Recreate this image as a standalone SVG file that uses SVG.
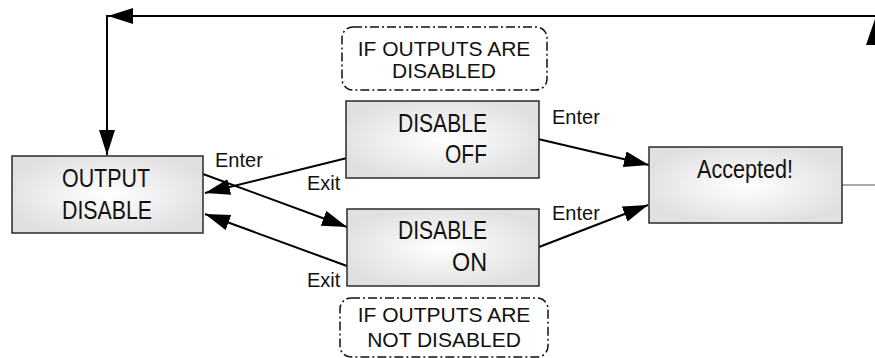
<svg xmlns="http://www.w3.org/2000/svg" width="875" height="358" viewBox="0 0 875 358">
<style>
.box{stroke:#2a2a2a;stroke-width:1.5;fill:url(#g)}
.bt{font-family:"Liberation Sans",Arial,sans-serif;font-size:25.5px;fill:#111}
.lb{font-family:"Liberation Sans",Arial,sans-serif;font-size:20px;fill:#111}
.nt{font-family:"Liberation Sans",Arial,sans-serif;font-size:21px;fill:#111;text-anchor:middle}
.note{fill:none;stroke:#111;stroke-width:1.5;stroke-dasharray:9 3 2 3}
.c{fill:none;stroke:#000;stroke-width:2}
</style>
<defs>
<radialGradient id="g" cx="50%" cy="50%" r="55%">
<stop offset="0" stop-color="#ffffff"/>
<stop offset="1" stop-color="#e0e0e0"/>
</radialGradient>
<marker id="a" markerUnits="userSpaceOnUse" markerWidth="26" markerHeight="18" refX="25" refY="8" orient="auto">
<path d="M0,0 L25,8 L0,16 z" fill="#000"/>
</marker>
</defs>
<rect width="875" height="358" fill="#fff"/>
<g id="connectors">
<polyline class="c" points="875,16 108,16" marker-end="url(#a)"/>
<polyline class="c" points="107,15 107,155" marker-end="url(#a)"/>
<line class="c" x1="203" y1="174" x2="347" y2="227" marker-end="url(#a)"/>
<line class="c" x1="347" y1="158" x2="205" y2="193" marker-end="url(#a)"/>
<line class="c" x1="347" y1="266" x2="205" y2="214" marker-end="url(#a)"/>
<line class="c" x1="538" y1="139" x2="649" y2="165" marker-end="url(#a)"/>
<line class="c" x1="539" y1="247" x2="648" y2="205" marker-end="url(#a)"/>
<line x1="842" y1="185" x2="875" y2="185" stroke="#555" stroke-width="1"/>
<polygon points="866,45 875,19 884,45" fill="#000"/>
<text class="lb" x="215" y="167">Enter</text>
<text class="lb" x="307" y="190">Exit</text>
<text class="lb" x="307" y="287">Exit</text>
<text class="lb" x="552" y="124">Enter</text>
<text class="lb" x="552" y="220">Enter</text>
</g>
<g id="output-disable">
<rect class="box" x="12" y="156" width="191" height="77"/>
<text class="bt" x="62" y="187" textLength="88" lengthAdjust="spacingAndGlyphs">OUTPUT</text>
<text class="bt" x="62" y="219" textLength="90" lengthAdjust="spacingAndGlyphs">DISABLE</text>
</g>
<g id="disable-off">
<rect class="box" x="346" y="101" width="193" height="77"/>
<text class="bt" x="398" y="132" textLength="89" lengthAdjust="spacingAndGlyphs">DISABLE</text>
<text class="bt" x="445" y="163" textLength="42" lengthAdjust="spacingAndGlyphs">OFF</text>
</g>
<g id="disable-on">
<rect class="box" x="347" y="209" width="192" height="77"/>
<text class="bt" x="398" y="239" textLength="89" lengthAdjust="spacingAndGlyphs">DISABLE</text>
<text class="bt" x="452" y="271" textLength="35" lengthAdjust="spacingAndGlyphs">ON</text>
</g>
<g id="accepted">
<rect class="box" x="649" y="147" width="193" height="76"/>
<text class="bt" x="697" y="178" textLength="96" lengthAdjust="spacingAndGlyphs">Accepted!</text>
</g>
<g id="note-disabled">
<rect class="note" x="342" y="27" width="205" height="63" rx="11"/>
<text class="nt" x="444" y="56">IF OUTPUTS ARE</text>
<text class="nt" x="444" y="78">DISABLED</text>
</g>
<g id="note-not-disabled">
<rect class="note" x="340" y="298" width="208" height="59" rx="11"/>
<text class="nt" x="444" y="322">IF OUTPUTS ARE</text>
<text class="nt" x="444" y="347">NOT DISABLED</text>
</g>
</svg>
